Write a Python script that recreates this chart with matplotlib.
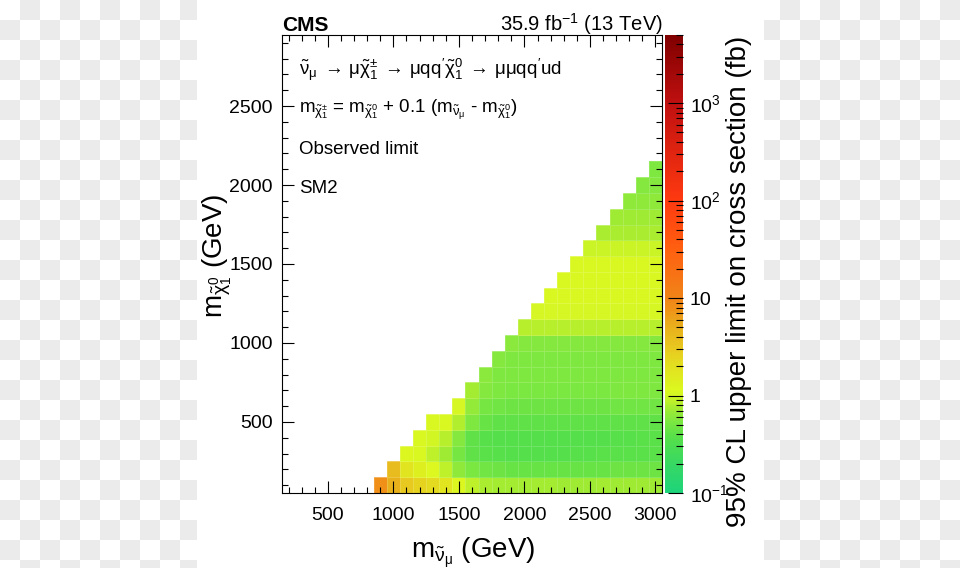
import numpy as np
import matplotlib

matplotlib.use("Agg")
import matplotlib.pyplot as plt
from matplotlib.colors import LinearSegmentedColormap, LogNorm
from matplotlib.ticker import FixedLocator, FixedFormatter, LogLocator, MultipleLocator, NullFormatter

plt.rcParams["font.family"] = ["Liberation Sans", "DejaVu Sans"]
plt.rcParams["mathtext.fontset"] = "custom"
plt.rcParams["mathtext.rm"] = "Liberation Sans"
plt.rcParams["mathtext.it"] = "Liberation Sans"
plt.rcParams["mathtext.bf"] = "Liberation Sans:bold"

# grid of signal points (GeV)
sneutrino_mass = [900, 1000, 1100, 1200, 1300, 1400, 1500, 1600, 1700, 1800, 1900,
                  2000, 2100, 2200, 2300, 2400, 2500, 2600, 2700, 2800, 2900, 3000]
neutralino_mass = [100, 200, 300, 400, 500, 600, 700, 800, 900, 1000, 1100,
                   1200, 1300, 1400, 1500, 1600, 1700, 1800, 1900, 2000, 2100]
# lightest sneutrino mass probed in each neutralino row
first_sneutrino = [900, 1000, 1100, 1200, 1300, 1500, 1600, 1700, 1800, 1900, 2000,
                   2100, 2200, 2300, 2400, 2500, 2600, 2700, 2800, 2900, 3000]

# observed 95% CL limits (fb), one list per neutralino row, from first_sneutrino to 3000
limits_fb = [
    [8.0, 5.0, 3.0, 2.5, 2.2, 1.8, 1.2, 0.9, 0.78, 0.75, 0.74, 0.74, 0.73, 0.73, 0.72,
     0.72, 0.72, 0.73, 0.72, 0.72, 0.72, 0.72],
    [4.0, 1.8, 1.4, 1.15, 0.9, 0.62, 0.52, 0.48, 0.46, 0.45, 0.45, 0.45, 0.45, 0.45,
     0.45, 0.45, 0.45, 0.46, 0.46, 0.46, 0.46],
    [1.2, 1.1, 0.9, 0.72, 0.5, 0.42, 0.39, 0.38, 0.37, 0.37, 0.37, 0.37, 0.37, 0.38,
     0.38, 0.39, 0.39, 0.40, 0.40, 0.40],
    [1.1, 1.0, 0.85, 0.58, 0.42, 0.38, 0.37, 0.36, 0.36, 0.36, 0.36, 0.36, 0.37, 0.37,
     0.37, 0.38, 0.38, 0.39, 0.39],
    [1.1, 1.1, 0.82, 0.55, 0.45, 0.42, 0.41, 0.41, 0.41, 0.41, 0.41, 0.41, 0.41, 0.41,
     0.42, 0.42, 0.42, 0.42],
    [1.05, 0.66, 0.5, 0.48, 0.47, 0.47, 0.47, 0.47, 0.47, 0.47, 0.47, 0.47, 0.48, 0.48,
     0.48, 0.48],
    [0.75, 0.58, 0.55, 0.54, 0.54, 0.54, 0.54, 0.54, 0.54, 0.54, 0.54, 0.55, 0.55, 0.55,
     0.55],
    [0.6, 0.56, 0.55, 0.55, 0.55, 0.55, 0.55, 0.55, 0.55, 0.55, 0.55, 0.55, 0.55, 0.55],
    [0.58, 0.56, 0.55, 0.55, 0.55, 0.55, 0.55, 0.55, 0.55, 0.55, 0.55, 0.55, 0.55],
    [0.6, 0.58, 0.58, 0.58, 0.58, 0.58, 0.58, 0.58, 0.58, 0.58, 0.58, 0.58],
    [0.86, 0.85, 0.85, 0.85, 0.85, 0.85, 0.85, 0.85, 0.85, 0.85, 0.85],
    [1.05, 1.05, 1.05, 1.05, 1.05, 1.05, 1.05, 1.05, 1.05, 1.05],
    [1.08, 1.08, 1.08, 1.08, 1.08, 1.08, 1.08, 1.08, 1.08],
    [1.08, 1.08, 1.08, 1.08, 1.08, 1.08, 1.08, 1.08],
    [1.08, 1.08, 1.08, 1.08, 1.08, 1.08, 1.08],
    [0.95, 0.95, 0.95, 0.95, 0.95, 0.95],
    [0.78, 0.78, 0.78, 0.78, 0.78],
    [0.7, 0.7, 0.7, 0.7],
    [0.62, 0.62, 0.62],
    [0.58, 0.58],
    [0.55],
]

z_ticks = [0.1, 1, 10, 100, 1000]
z_labels = [r"$10^{-1}$", "1", "10", r"$10^{2}$", r"$10^{3}$"]

# palette anchors: (log10 of limit, colour)
palette = [
    (-1.0, "#1ed47a"), (-0.7, "#38d862"), (-0.42, "#58e048"), (-0.26, "#80e840"),
    (-0.12, "#a8ec30"), (0.0, "#d4f624"), (0.05, "#dcf820"), (0.3, "#e2e020"),
    (0.48, "#e8c820"), (0.7, "#e8b01c"), (0.9, "#f09018"), (1.0, "#f08418"),
    (1.5, "#ff6010"), (2.0, "#ff3a10"), (2.5, "#e02410"), (3.0, "#c01010"),
    (3.7, "#800000"),
]
z_min, z_max = 0.1, 5000.0

lo, hi = np.log10(z_min), np.log10(z_max)
pos = np.clip([(v - lo) / (hi - lo) for v, _ in palette], 0, 1)
pos[-1] = 1.0
cmap = LinearSegmentedColormap.from_list("limit", list(zip(pos, [c for _, c in palette])))

grid = np.full((len(neutralino_mass), len(sneutrino_mass)), np.nan)
for i, (start, row) in enumerate(zip(first_sneutrino, limits_fb)):
    j0 = sneutrino_mass.index(start)
    grid[i, j0:j0 + len(row)] = row
grid = np.ma.masked_invalid(grid)

x_step = sneutrino_mass[1] - sneutrino_mass[0]
y_step = neutralino_mass[1] - neutralino_mass[0]
x_edges = np.append(np.array(sneutrino_mass) - x_step / 2, sneutrino_mass[-1] + x_step / 2)
y_edges = np.append(np.array(neutralino_mass) - y_step / 2, neutralino_mass[-1] + y_step / 2)

W, H = 960, 568
fig = plt.figure(figsize=(W / 100, H / 100), dpi=100)

# transparent-looking checker outside the white canvas
yy, xx = np.mgrid[0:H, 0:W]
checker = np.where(((yy // 20) + (xx // 20)) % 2 == 1, 0.925, 1.0)
checker[:, 197:764] = 1.0
fig.figimage(np.dstack([checker] * 3), xo=0, yo=0, origin="upper", zorder=-10)

left, right, top, bottom = 282, 662, 35, 493
ax = fig.add_axes([left / W, (H - bottom) / H, (right - left) / W, (bottom - top) / H])
ax.patch.set_alpha(0)
mesh = ax.pcolormesh(
    x_edges, y_edges, grid, cmap=cmap, norm=LogNorm(z_min, z_max),
    edgecolors=(1, 1, 1, 0.16), linewidth=0.5,
)
ax.set_xlim(150, 3050)
ax.set_ylim(50, 2950)
ax.set_xticks([500, 1000, 1500, 2000, 2500, 3000], ["500", "1000", "1500", "2000", "2500", "3000"])
ax.set_yticks([500, 1000, 1500, 2000, 2500], ["500", "1000", "1500", "2000", "2500"])
ax.xaxis.set_minor_locator(MultipleLocator(100))
ax.yaxis.set_minor_locator(MultipleLocator(100))
ax.tick_params(which="both", direction="in", top=True, right=True, width=0.8, labelsize=14)
ax.tick_params(which="major", length=8.5)
ax.tick_params(which="minor", length=4.3)
ax.tick_params(axis="x", pad=10)
ax.tick_params(axis="y", pad=6.5)
for sp in ax.spines.values():
    sp.set_linewidth(0.8)

cax = fig.add_axes([665 / W, (H - bottom) / H, 18 / W, (bottom - top) / H])
cb = fig.colorbar(mesh, cax=cax)
cb.outline.set_visible(False)
cax.yaxis.set_major_locator(FixedLocator(z_ticks))
cax.yaxis.set_major_formatter(FixedFormatter(z_labels))
cax.yaxis.set_minor_locator(LogLocator(base=10, subs=np.arange(2, 10)))
cax.yaxis.set_minor_formatter(NullFormatter())
cax.tick_params(which="both", direction="in", right=True, left=False, width=0.8, labelsize=14, pad=5)
cax.tick_params(which="major", length=11)
cax.tick_params(which="minor", length=5)

fig.text(739 / W, 1 - 281 / H, "95% CL upper limit on cross section (fb)",
         rotation=90, ha="center", va="center", fontsize=20)
fig.text(473.5 / W, 1 - 557 / H, r"$m_{\tilde{\nu}_{\mu}}$ (GeV)",
         ha="center", va="baseline", fontsize=20)
fig.text(222 / W, 1 - 256 / H, r"$m_{\tilde{\chi}^{0}_{1}}$ (GeV)",
         rotation=90, rotation_mode="anchor", ha="center", va="baseline", fontsize=20)

fig.text(282 / W, 1 - 31 / H, "CMS", fontsize=15, fontweight="bold", va="baseline")
fig.text(663 / W, 1 - 31 / H, r"35.9 fb$^{-1}$ (13 TeV)", fontsize=14.5, ha="right", va="baseline")

fig.text(299 / W, 1 - 75 / H,
         r"$\tilde{\nu}_{\mu}\;\rightarrow\,\mu\tilde{\chi}^{\pm}_{1}\;\rightarrow\,\mu qq'\tilde{\chi}^{0}_{1}"
         r"\;\rightarrow\,\mu\mu qq'ud$",
         fontsize=13.5, va="baseline")
fig.text(299 / W, 1 - 113 / H,
         r"$m_{\tilde{\chi}^{\pm}_{1}}$ = $m_{\tilde{\chi}^{0}_{1}}$ + 0.1 ($m_{\tilde{\nu}_{\mu}}$ - $m_{\tilde{\chi}^{0}_{1}}$)",
         fontsize=13.5, va="baseline")
fig.text(299 / W, 1 - 154 / H, "Observed limit", fontsize=13.5, va="baseline")
fig.text(299 / W, 1 - 193 / H, "SM2", fontsize=13.5, va="baseline")

fig.savefig("out.png", dpi=100)
